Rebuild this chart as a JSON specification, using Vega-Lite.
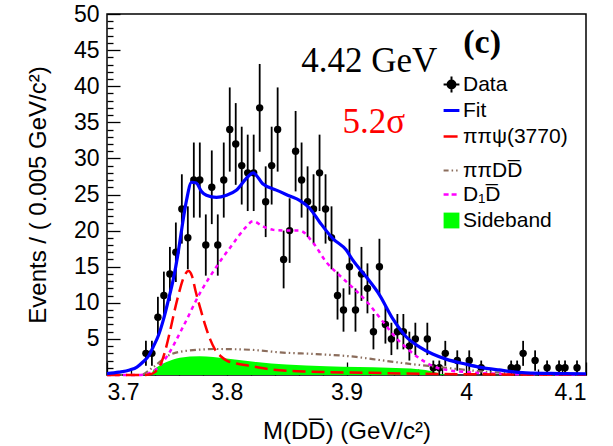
{
 "$schema": "https://vega.github.io/schema/vega-lite/v6.json",
 "width": 479, "height": 361,
 "autosize": "none",
 "padding": {"left": 107, "top": 14, "right": 27, "bottom": 71},
 "background": "white",
 "config": {
  "view": {"stroke": "black", "strokeWidth": 1.5},
  "axis": {"domain": false, "grid": false, "tickColor": "black", "tickWidth": 1.3,
   "labelFont": "Liberation Sans", "labelFontSize": 23, "labelColor": "black",
   "titleFont": "Liberation Sans", "titleFontSize": 24, "titleFontWeight": "normal", "titleColor": "black"},
  "legend": {"orient": "none", "title": null, "padding": 0, "labelFont": "Liberation Sans", "labelFontSize": 21, "labelColor": "black", "labelOffset": 1, "symbolSize": 250}
 },
 "resolve": {"axis": {"x": "independent", "y": "independent"}, "scale": {"color": "independent"}, "legend": {"color": "independent"}},
 "datasets": {
  "pts": [
   {"m":3.7325,"n":3,"lo":1.27,"hi":4.73,"comp":"Data"},
   {"m":3.7375,"n":3,"lo":1.27,"hi":4.73,"comp":"Data"},
   {"m":3.7425,"n":8,"lo":5.17,"hi":10.83,"comp":"Data"},
   {"m":3.7475,"n":11,"lo":7.68,"hi":14.32,"comp":"Data"},
   {"m":3.7525,"n":14,"lo":10.26,"hi":17.74,"comp":"Data"},
   {"m":3.7575,"n":17,"lo":12.88,"hi":21.12,"comp":"Data"},
   {"m":3.7625,"n":23,"lo":18.2,"hi":27.8,"comp":"Data"},
   {"m":3.7675,"n":19,"lo":14.64,"hi":23.36,"comp":"Data"},
   {"m":3.7725,"n":27,"lo":21.8,"hi":32.2,"comp":"Data"},
   {"m":3.7775,"n":27,"lo":21.8,"hi":32.2,"comp":"Data"},
   {"m":3.7825,"n":18,"lo":13.76,"hi":22.24,"comp":"Data"},
   {"m":3.7875,"n":26,"lo":20.9,"hi":31.1,"comp":"Data"},
   {"m":3.7925,"n":18,"lo":13.76,"hi":22.24,"comp":"Data"},
   {"m":3.7975,"n":27,"lo":21.8,"hi":32.2,"comp":"Data"},
   {"m":3.8025,"n":34,"lo":28.17,"hi":39.83,"comp":"Data"},
   {"m":3.8075,"n":32,"lo":26.34,"hi":37.66,"comp":"Data"},
   {"m":3.8125,"n":29,"lo":23.61,"hi":34.39,"comp":"Data"},
   {"m":3.8175,"n":28,"lo":22.71,"hi":33.29,"comp":"Data"},
   {"m":3.8225,"n":28,"lo":22.71,"hi":33.29,"comp":"Data"},
   {"m":3.8275,"n":37,"lo":30.92,"hi":43.08,"comp":"Data"},
   {"m":3.8325,"n":24,"lo":19.1,"hi":28.9,"comp":"Data"},
   {"m":3.8375,"n":29,"lo":23.61,"hi":34.39,"comp":"Data"},
   {"m":3.8425,"n":34,"lo":28.17,"hi":39.83,"comp":"Data"},
   {"m":3.8475,"n":16,"lo":12,"hi":20,"comp":"Data"},
   {"m":3.8525,"n":20,"lo":15.53,"hi":24.47,"comp":"Data"},
   {"m":3.8575,"n":31,"lo":25.43,"hi":36.57,"comp":"Data"},
   {"m":3.8625,"n":27,"lo":21.8,"hi":32.2,"comp":"Data"},
   {"m":3.8675,"n":24,"lo":19.1,"hi":28.9,"comp":"Data"},
   {"m":3.8725,"n":23,"lo":18.2,"hi":27.8,"comp":"Data"},
   {"m":3.8775,"n":28,"lo":22.71,"hi":33.29,"comp":"Data"},
   {"m":3.8825,"n":23,"lo":18.2,"hi":27.8,"comp":"Data"},
   {"m":3.8875,"n":19,"lo":14.64,"hi":23.36,"comp":"Data"},
   {"m":3.8925,"n":11,"lo":7.68,"hi":14.32,"comp":"Data"},
   {"m":3.8975,"n":9,"lo":6,"hi":12,"comp":"Data"},
   {"m":3.9025,"n":15,"lo":11.13,"hi":18.87,"comp":"Data"},
   {"m":3.9075,"n":9,"lo":6,"hi":12,"comp":"Data"},
   {"m":3.9125,"n":14,"lo":10.26,"hi":17.74,"comp":"Data"},
   {"m":3.9175,"n":12,"lo":8.54,"hi":15.46,"comp":"Data"},
   {"m":3.9225,"n":6,"lo":3.55,"hi":8.45,"comp":"Data"},
   {"m":3.9275,"n":15,"lo":11.13,"hi":18.87,"comp":"Data"},
   {"m":3.9325,"n":7,"lo":4.35,"hi":9.65,"comp":"Data"},
   {"m":3.9375,"n":5,"lo":2.76,"hi":7.24,"comp":"Data"},
   {"m":3.9425,"n":6,"lo":3.55,"hi":8.45,"comp":"Data"},
   {"m":3.9475,"n":6,"lo":3.55,"hi":8.45,"comp":"Data"},
   {"m":3.9525,"n":4,"lo":2,"hi":6,"comp":"Data"},
   {"m":3.9575,"n":5,"lo":2.76,"hi":7.24,"comp":"Data"},
   {"m":3.9675,"n":5,"lo":2.76,"hi":7.24,"comp":"Data"},
   {"m":3.9725,"n":1,"lo":0,"hi":2,"comp":"Data"},
   {"m":3.9775,"n":1,"lo":0,"hi":2,"comp":"Data"},
   {"m":3.9825,"n":3,"lo":1.27,"hi":4.73,"comp":"Data"},
   {"m":3.9925,"n":2,"lo":0.59,"hi":3.41,"comp":"Data"},
   {"m":4.0025,"n":2,"lo":0.59,"hi":3.41,"comp":"Data"},
   {"m":4.0125,"n":1,"lo":0,"hi":2,"comp":"Data"},
   {"m":4.0375,"n":1,"lo":0,"hi":2,"comp":"Data"},
   {"m":4.0425,"n":1,"lo":0,"hi":2,"comp":"Data"},
   {"m":4.0475,"n":3,"lo":1.27,"hi":4.73,"comp":"Data"},
   {"m":4.0575,"n":2,"lo":0.59,"hi":3.41,"comp":"Data"},
   {"m":4.0675,"n":1,"lo":0,"hi":2,"comp":"Data"},
   {"m":4.0775,"n":1,"lo":0,"hi":2,"comp":"Data"},
   {"m":4.0825,"n":1,"lo":0,"hi":2,"comp":"Data"},
   {"m":4.0925,"n":1,"lo":0,"hi":2,"comp":"Data"}
  ],
  "side": [
   {"m":3.7,"v":0,"comp":"Sideband"},
   {"m":3.7375,"v":0,"comp":"Sideband"},
   {"m":3.738,"v":0.5,"comp":"Sideband"},
   {"m":3.742,"v":1.1,"comp":"Sideband"},
   {"m":3.7497,"v":1.8,"comp":"Sideband"},
   {"m":3.7608,"v":2.4,"comp":"Sideband"},
   {"m":3.7775,"v":2.6,"comp":"Sideband"},
   {"m":3.7998,"v":2.3,"comp":"Sideband"},
   {"m":3.8248,"v":1.8,"comp":"Sideband"},
   {"m":3.8497,"v":1.45,"comp":"Sideband"},
   {"m":3.883,"v":1.2,"comp":"Sideband"},
   {"m":3.91,"v":1.1,"comp":"Sideband"},
   {"m":3.935,"v":1.0,"comp":"Sideband"},
   {"m":3.96,"v":0.8,"comp":"Sideband"},
   {"m":3.972,"v":0.5,"comp":"Sideband"},
   {"m":3.98,"v":0.1,"comp":"Sideband"},
   {"m":3.99,"v":0,"comp":"Sideband"},
   {"m":4.1,"v":0,"comp":"Sideband"}
  ],
  "curves": [
   {"m":3.7,"v":0.2,"comp":"Fit"},
   {"m":3.71,"v":0.4,"comp":"Fit"},
   {"m":3.719,"v":0.7,"comp":"Fit"},
   {"m":3.725,"v":1.1,"comp":"Fit"},
   {"m":3.73,"v":1.8,"comp":"Fit"},
   {"m":3.735,"v":2.7,"comp":"Fit"},
   {"m":3.7386,"v":3.9,"comp":"Fit"},
   {"m":3.743,"v":5.5,"comp":"Fit"},
   {"m":3.747,"v":7.6,"comp":"Fit"},
   {"m":3.751,"v":10.2,"comp":"Fit"},
   {"m":3.7553,"v":13.2,"comp":"Fit"},
   {"m":3.759,"v":16.5,"comp":"Fit"},
   {"m":3.7623,"v":20.1,"comp":"Fit"},
   {"m":3.7664,"v":24.2,"comp":"Fit"},
   {"m":3.7706,"v":26.7,"comp":"Fit"},
   {"m":3.7745,"v":26.6,"comp":"Fit"},
   {"m":3.779,"v":25.4,"comp":"Fit"},
   {"m":3.783,"v":24.9,"comp":"Fit"},
   {"m":3.7914,"v":24.6,"comp":"Fit"},
   {"m":3.7998,"v":24.9,"comp":"Fit"},
   {"m":3.808,"v":25.6,"comp":"Fit"},
   {"m":3.8178,"v":27.5,"comp":"Fit"},
   {"m":3.822,"v":28.0,"comp":"Fit"},
   {"m":3.83,"v":26.5,"comp":"Fit"},
   {"m":3.8414,"v":25.6,"comp":"Fit"},
   {"m":3.8525,"v":24.8,"comp":"Fit"},
   {"m":3.8608,"v":24.2,"comp":"Fit"},
   {"m":3.8692,"v":23.1,"comp":"Fit"},
   {"m":3.8775,"v":21.2,"comp":"Fit"},
   {"m":3.8886,"v":18.9,"comp":"Fit"},
   {"m":3.8998,"v":17.3,"comp":"Fit"},
   {"m":3.9053,"v":15.9,"comp":"Fit"},
   {"m":3.9164,"v":13.6,"comp":"Fit"},
   {"m":3.9275,"v":11.1,"comp":"Fit"},
   {"m":3.9386,"v":7.8,"comp":"Fit"},
   {"m":3.9498,"v":5.3,"comp":"Fit"},
   {"m":3.9608,"v":3.9,"comp":"Fit"},
   {"m":3.9719,"v":2.9,"comp":"Fit"},
   {"m":3.9831,"v":2.2,"comp":"Fit"},
   {"m":3.9998,"v":1.5,"comp":"Fit"},
   {"m":4.0108,"v":1.1,"comp":"Fit"},
   {"m":4.0275,"v":0.7,"comp":"Fit"},
   {"m":4.0498,"v":0.3,"comp":"Fit"},
   {"m":4.0775,"v":0.2,"comp":"Fit"},
   {"m":4.1,"v":0.15,"comp":"Fit"},

   {"m":3.7,"v":0,"comp":"ππψ(3770)"},
   {"m":3.73,"v":0,"comp":"ππψ(3770)"},
   {"m":3.736,"v":0.1,"comp":"ππψ(3770)"},
   {"m":3.74,"v":0.4,"comp":"ππψ(3770)"},
   {"m":3.744,"v":1.2,"comp":"ππψ(3770)"},
   {"m":3.748,"v":3.0,"comp":"ππψ(3770)"},
   {"m":3.752,"v":5.6,"comp":"ππψ(3770)"},
   {"m":3.756,"v":8.6,"comp":"ππψ(3770)"},
   {"m":3.76,"v":11.3,"comp":"ππψ(3770)"},
   {"m":3.764,"v":13.5,"comp":"ππψ(3770)"},
   {"m":3.768,"v":14.4,"comp":"ππψ(3770)"},
   {"m":3.771,"v":13.7,"comp":"ππψ(3770)"},
   {"m":3.774,"v":11.6,"comp":"ππψ(3770)"},
   {"m":3.778,"v":9.2,"comp":"ππψ(3770)"},
   {"m":3.782,"v":6.9,"comp":"ππψ(3770)"},
   {"m":3.786,"v":5.0,"comp":"ππψ(3770)"},
   {"m":3.79,"v":3.6,"comp":"ππψ(3770)"},
   {"m":3.795,"v":2.6,"comp":"ππψ(3770)"},
   {"m":3.8,"v":2.0,"comp":"ππψ(3770)"},
   {"m":3.808,"v":1.6,"comp":"ππψ(3770)"},
   {"m":3.818,"v":1.3,"comp":"ππψ(3770)"},
   {"m":3.836,"v":0.8,"comp":"ππψ(3770)"},
   {"m":3.864,"v":0.5,"comp":"ππψ(3770)"},
   {"m":3.886,"v":0.4,"comp":"ππψ(3770)"},
   {"m":3.92,"v":0.3,"comp":"ππψ(3770)"},
   {"m":3.95,"v":0.2,"comp":"ππψ(3770)"},
   {"m":4.0,"v":0.1,"comp":"ππψ(3770)"},
   {"m":4.1,"v":0.05,"comp":"ππψ(3770)"},

   {"m":3.7,"v":0,"comp":"ππDD̅"},
   {"m":3.728,"v":0,"comp":"ππDD̅"},
   {"m":3.7386,"v":1.1,"comp":"ππDD̅"},
   {"m":3.7525,"v":2.8,"comp":"ππDD̅"},
   {"m":3.7692,"v":3.4,"comp":"ππDD̅"},
   {"m":3.7914,"v":3.6,"comp":"ππDD̅"},
   {"m":3.8192,"v":3.5,"comp":"ππDD̅"},
   {"m":3.8469,"v":3.1,"comp":"ππDD̅"},
   {"m":3.8747,"v":2.9,"comp":"ππDD̅"},
   {"m":3.9081,"v":2.5,"comp":"ππDD̅"},
   {"m":3.9219,"v":2.2,"comp":"ππDD̅"},
   {"m":3.9498,"v":1.6,"comp":"ππDD̅"},
   {"m":3.9775,"v":1.1,"comp":"ππDD̅"},
   {"m":3.9998,"v":0.7,"comp":"ππDD̅"},
   {"m":4.02,"v":0.4,"comp":"ππDD̅"},
   {"m":4.05,"v":0.2,"comp":"ππDD̅"},
   {"m":4.1,"v":0.05,"comp":"ππDD̅"},

   {"m":3.7,"v":0,"comp":"D₁D̅"},
   {"m":3.728,"v":0,"comp":"D₁D̅"},
   {"m":3.7386,"v":0.5,"comp":"D₁D̅"},
   {"m":3.7497,"v":2.5,"comp":"D₁D̅"},
   {"m":3.7636,"v":6.7,"comp":"D₁D̅"},
   {"m":3.7775,"v":11.3,"comp":"D₁D̅"},
   {"m":3.7914,"v":15.0,"comp":"D₁D̅"},
   {"m":3.8053,"v":18.2,"comp":"D₁D̅"},
   {"m":3.815,"v":20.3,"comp":"D₁D̅"},
   {"m":3.822,"v":21.3,"comp":"D₁D̅"},
   {"m":3.83,"v":20.6,"comp":"D₁D̅"},
   {"m":3.839,"v":20.1,"comp":"D₁D̅"},
   {"m":3.85,"v":20.0,"comp":"D₁D̅"},
   {"m":3.861,"v":20.0,"comp":"D₁D̅"},
   {"m":3.8717,"v":18.4,"comp":"D₁D̅"},
   {"m":3.8833,"v":15.6,"comp":"D₁D̅"},
   {"m":3.8942,"v":13.8,"comp":"D₁D̅"},
   {"m":3.9072,"v":11.8,"comp":"D₁D̅"},
   {"m":3.9183,"v":9.9,"comp":"D₁D̅"},
   {"m":3.9294,"v":7.6,"comp":"D₁D̅"},
   {"m":3.9406,"v":5.3,"comp":"D₁D̅"},
   {"m":3.9517,"v":3.5,"comp":"D₁D̅"},
   {"m":3.9628,"v":2.1,"comp":"D₁D̅"},
   {"m":3.9739,"v":1.1,"comp":"D₁D̅"},
   {"m":3.9878,"v":0.6,"comp":"D₁D̅"},
   {"m":4.0,"v":0.4,"comp":"D₁D̅"},
   {"m":4.02,"v":0.2,"comp":"D₁D̅"},
   {"m":4.05,"v":0.1,"comp":"D₁D̅"},
   {"m":4.1,"v":0.05,"comp":"D₁D̅"}
  ]
 },
 "layer": [
  {
   "data": {"name": "side"},
   "mark": {"type": "area", "interpolate": "monotone", "opacity": 1},
   "encoding": {
    "x": {"field": "m", "type": "quantitative", "scale": {"domain": [3.7, 4.1], "nice": false, "zero": false},
     "axis": {"orient": "bottom", "values": [3.72,3.74,3.76,3.78,3.82,3.84,3.86,3.88,3.92,3.94,3.96,3.98,4.02,4.04,4.06,4.08], "tickSize": -6, "labels": false, "title": null}},
    "y": {"field": "v", "type": "quantitative", "scale": {"domain": [0, 50], "nice": false},
     "axis": {"orient": "left", "values": [1,2,3,4,6,7,8,9,11,12,13,14,16,17,18,19,21,22,23,24,26,27,28,29,31,32,33,34,36,37,38,39,41,42,43,44,46,47,48,49], "tickSize": -6, "labels": false, "title": null}},
    "color": {"field": "comp", "type": "nominal", "scale": {"range": ["#00ff00"]},
     "legend": {"legendX": 334, "legendY": 196, "symbolType": "square"}}
   }
  },
  {
   "data": {"name": "pts"},
   "mark": {"type": "rule", "strokeWidth": 1.8, "color": "black"},
   "encoding": {
    "x": {"field": "m", "type": "quantitative",
     "axis": {"orient": "bottom", "values": [3.7, 3.8, 3.9, 4, 4.1], "format": "~g", "tickSize": -13, "labelPadding": 19, "title": "M(DD̅) (GeV/c²)", "titlePadding": 15}},
    "y": {"field": "lo", "type": "quantitative",
     "axis": {"orient": "left", "values": [5, 10, 15, 20, 25, 30, 35, 40, 45, 50], "tickSize": -13, "labelPadding": 21, "title": "Events / ( 0.005 GeV/c²)", "titlePadding": 23}},
    "y2": {"field": "hi"}
   }
  },
  {
   "data": {"name": "pts"},
   "mark": {"type": "circle", "size": 55, "opacity": 1},
   "encoding": {
    "x": {"field": "m", "type": "quantitative", "axis": null},
    "y": {"field": "n", "type": "quantitative", "axis": null},
    "color": {"field": "comp", "type": "nominal", "scale": {"range": ["#000000"]},
     "legend": {"legendX": 334, "legendY": 60, "symbolType": "M-1,0L1,0M0,-1L0,1M-0.5,0A0.5,0.5 0 1,0 0.5,0A0.5,0.5 0 1,0 -0.5,0Z", "symbolStrokeColor": "#000000", "symbolStrokeWidth": 2}}
   }
  },
  {
   "data": {"name": "curves"},
   "transform": [{"filter": "datum.comp === 'ππDD̅'"}],
   "mark": {"type": "line", "interpolate": "monotone", "strokeWidth": 2.2, "strokeDash": [6, 3, 1.5, 3, 1.5, 3]},
   "encoding": {
    "x": {"field": "m", "type": "quantitative", "axis": null},
    "y": {"field": "v", "type": "quantitative", "axis": null},
    "color": {"field": "comp", "type": "nominal", "scale": {"range": ["#8b6d5c"]},
     "legend": {"legendX": 334, "legendY": 146, "symbolType": "stroke", "symbolStrokeWidth": 2.2, "symbolDash": [5, 3, 1.5, 3, 1.5, 3]}}
   }
  },
  {
   "data": {"name": "curves"},
   "transform": [{"filter": "datum.comp === 'D₁D̅'"}],
   "mark": {"type": "line", "interpolate": "monotone", "strokeWidth": 2.5, "strokeDash": [4, 4]},
   "encoding": {
    "x": {"field": "m", "type": "quantitative", "axis": null},
    "y": {"field": "v", "type": "quantitative", "axis": null},
    "color": {"field": "comp", "type": "nominal", "scale": {"range": ["#ff00ff"]},
     "legend": {"legendX": 334, "legendY": 170, "symbolType": "stroke", "symbolStrokeWidth": 2.5, "symbolDash": [5, 3]}}
   }
  },
  {
   "data": {"name": "curves"},
   "transform": [{"filter": "datum.comp === 'ππψ(3770)'"}],
   "mark": {"type": "line", "interpolate": "monotone", "strokeWidth": 2.5, "strokeDash": [13, 6]},
   "encoding": {
    "x": {"field": "m", "type": "quantitative", "axis": null},
    "y": {"field": "v", "type": "quantitative", "axis": null},
    "color": {"field": "comp", "type": "nominal", "scale": {"range": ["#ff0000"]},
     "legend": {"legendX": 334, "legendY": 112, "symbolType": "stroke", "symbolStrokeWidth": 2.5, "symbolDash": [14, 4]}}
   }
  },
  {
   "data": {"name": "curves"},
   "transform": [{"filter": "datum.comp === 'Fit'"}],
   "mark": {"type": "line", "interpolate": "monotone", "strokeWidth": 3.2},
   "encoding": {
    "x": {"field": "m", "type": "quantitative", "axis": null},
    "y": {"field": "v", "type": "quantitative", "axis": null},
    "color": {"field": "comp", "type": "nominal", "scale": {"range": ["#0000ff"]},
     "legend": {"legendX": 334, "legendY": 86, "symbolType": "stroke", "symbolStrokeWidth": 3}}
   }
  },
  {
   "data": {"values": [{}]},
   "mark": {"type": "text", "font": "Liberation Serif", "fontSize": 35, "color": "black", "align": "center", "baseline": "alphabetic"},
   "encoding": {
    "x": {"datum": 3.919, "type": "quantitative", "axis": null},
    "y": {"datum": 42, "type": "quantitative", "axis": null},
    "text": {"value": "4.42 GeV"}
   }
  },
  {
   "data": {"values": [{}]},
   "mark": {"type": "text", "font": "Liberation Serif", "fontSize": 34, "fontWeight": "bold", "color": "black", "align": "center", "baseline": "alphabetic"},
   "encoding": {
    "x": {"datum": 4.0133, "type": "quantitative", "axis": null},
    "y": {"datum": 44.6, "type": "quantitative", "axis": null},
    "text": {"value": "(c)"}
   }
  },
  {
   "data": {"values": [{}]},
   "mark": {"type": "text", "font": "Liberation Serif", "fontSize": 35, "color": "#ff0000", "align": "center", "baseline": "alphabetic"},
   "encoding": {
    "x": {"datum": 3.9229, "type": "quantitative", "axis": null},
    "y": {"datum": 33.5, "type": "quantitative", "axis": null},
    "text": {"value": "5.2σ"}
   }
  }
 ]
}
